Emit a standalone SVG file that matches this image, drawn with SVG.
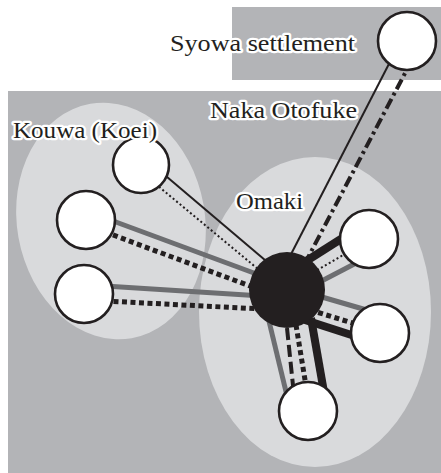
<svg xmlns="http://www.w3.org/2000/svg" width="441" height="473" viewBox="0 0 441 473">
<style>
.bg{fill:#b3b4b7}
.zone{fill:#d9dadc}
.node{fill:#fff;stroke:#231f20;stroke-width:2.6}
.hub{fill:#231f20}
.thin{stroke:#231f20;stroke-width:2;fill:none}
.dot{stroke:#231f20;stroke-width:2;stroke-dasharray:2 2.5;fill:none}
.grey{stroke:#6d6e71;stroke-width:5;fill:none}
.sq{stroke:#231f20;stroke-width:5;stroke-dasharray:5 3.5;fill:none}
.thick{stroke:#231f20;stroke-width:8;fill:none}
.dashdot{stroke:#231f20;stroke-width:4;stroke-dasharray:11 4 3 4;fill:none}
.long{stroke:#231f20;stroke-width:4;stroke-dasharray:12 5;fill:none}
.label{font-size:24px;fill:#231f20;stroke:#fff;stroke-width:4.5;stroke-linejoin:round;paint-order:stroke}
</style>
<rect width="441" height="473" fill="#fff"/>
<g id="areas">
<rect class="bg" x="232" y="7" width="209" height="73"/>
<rect class="bg" x="8" y="91" width="433" height="382"/>
<ellipse class="zone" cx="111" cy="221" rx="94" ry="119" transform="rotate(-10 111 221)"/>
<ellipse class="zone" cx="315" cy="312" rx="116" ry="155"/>
</g>
<g id="connectors">
<line class="thin" x1="392" y1="58" x2="287" y2="262"/>
<line class="dashdot" x1="412" y1="60" x2="303" y2="267"/>
<line class="thin" x1="160" y1="171" x2="272" y2="266"/>
<line class="dot" x1="152" y1="181" x2="264" y2="274"/>
<line class="grey" x1="105" y1="218" x2="262" y2="276"/>
<line class="sq" x1="105" y1="232" x2="258" y2="289"/>
<line class="grey" x1="105" y1="286" x2="262" y2="296"/>
<line class="sq" x1="105" y1="301" x2="262" y2="309"/>
<line class="thick" x1="352" y1="232" x2="300" y2="265"/>
<line class="dot" x1="350" y1="251" x2="312" y2="273"/>
<line class="grey" x1="360" y1="261" x2="312" y2="286"/>
<line class="grey" x1="315" y1="295" x2="370" y2="311"/>
<line class="sq" x1="310" y1="310" x2="362" y2="326"/>
<line class="thick" x1="305" y1="320" x2="367" y2="340"/>
<line class="grey" x1="268" y1="317" x2="288" y2="400"/>
<line class="long" x1="287" y1="328" x2="294" y2="395"/>
<line class="sq" x1="296" y1="325" x2="307" y2="392"/>
<line class="thick" x1="311" y1="318" x2="325" y2="398"/>
</g>
<g id="node-syowa"><circle class="node" cx="407" cy="41" r="29"/></g>
<g id="node-kouwa-1"><circle class="node" cx="141" cy="165" r="28"/></g>
<g id="node-kouwa-2"><circle class="node" cx="86" cy="220" r="29"/></g>
<g id="node-kouwa-3"><circle class="node" cx="84" cy="294" r="29"/></g>
<g id="node-hub"><circle class="hub" cx="287" cy="290" r="38"/></g>
<g id="node-omaki-1"><circle class="node" cx="369" cy="239" r="29"/></g>
<g id="node-omaki-2"><circle class="node" cx="380" cy="333" r="29"/></g>
<g id="node-omaki-3"><circle class="node" cx="308" cy="411" r="29"/></g>
<g id="labels" font-family="Liberation Serif, serif">
<text class="label" x="170" y="51" textLength="185" lengthAdjust="spacingAndGlyphs">Syowa settlement</text>
<text class="label" x="210" y="118" textLength="147" lengthAdjust="spacingAndGlyphs">Naka Otofuke</text>
<text class="label" x="13" y="138" textLength="144" lengthAdjust="spacingAndGlyphs">Kouwa (Koei)</text>
<text class="label" x="236" y="209" textLength="67" lengthAdjust="spacingAndGlyphs">Omaki</text>
</g>
</svg>
